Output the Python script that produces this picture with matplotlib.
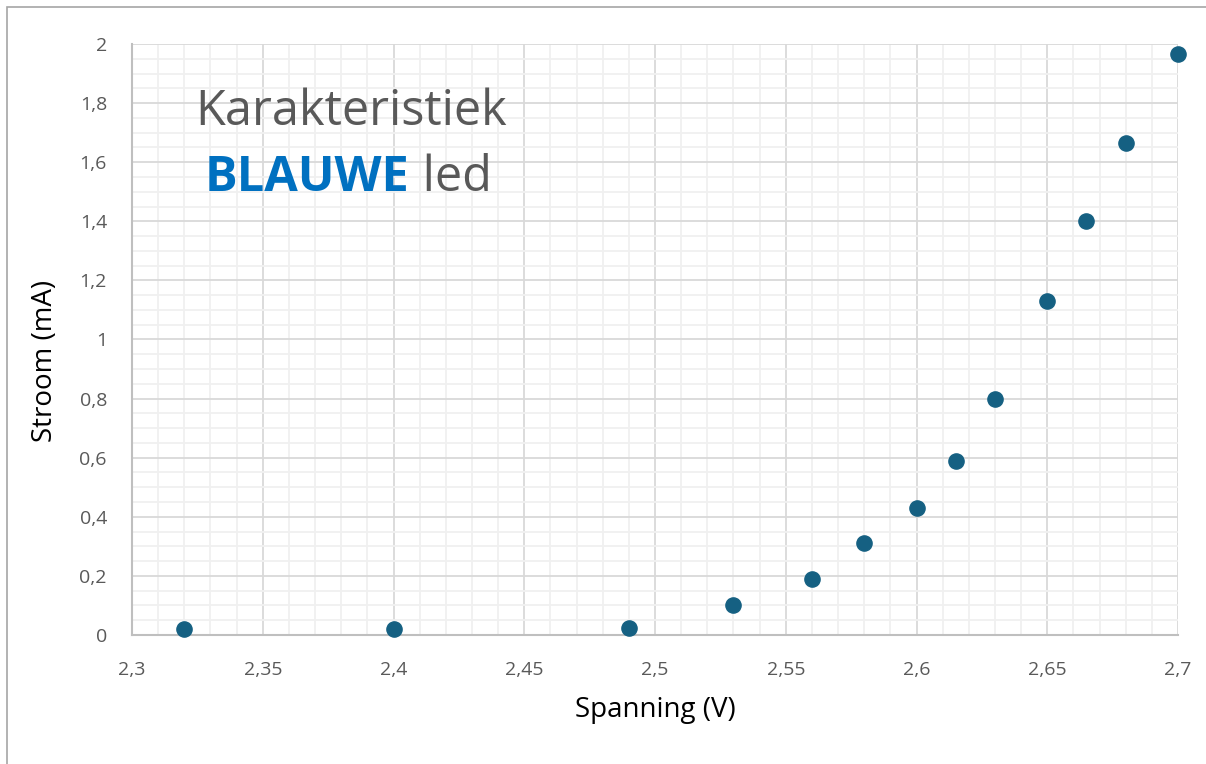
import matplotlib
matplotlib.use('Agg')
import matplotlib.pyplot as plt
from matplotlib.ticker import MultipleLocator, FuncFormatter
from matplotlib.patches import Rectangle

# gemeten waarden blauwe led
spanning = [2.32, 2.40, 2.49, 2.53, 2.56, 2.58, 2.60, 2.615, 2.63, 2.65, 2.665, 2.68, 2.70]
stroom = [0.02, 0.02, 0.025, 0.10, 0.19, 0.31, 0.43, 0.59, 0.80, 1.13, 1.40, 1.665, 1.965]

plt.rcParams['font.family'] = ['Open Sans', 'DejaVu Sans']

grey = '#595959'

fig = plt.figure(figsize=(12.06, 7.64), dpi=100)
fig.patches.append(Rectangle((7/1206, -0.01), 1.02, 1 - 7/764 + 0.01, transform=fig.transFigure,
                             fill=False, edgecolor='#A6A6A6', linewidth=1.2))
ax = fig.add_axes([132/1206, 1 - 635/764, (1178-132)/1206, (635-44)/764])

ax.scatter(spanning, stroom, s=120, color='#156082', zorder=3, clip_on=False)

ax.set_xlim(2.3, 2.7)
ax.set_ylim(0, 2)
ax.xaxis.set_major_locator(MultipleLocator(0.05))
ax.xaxis.set_minor_locator(MultipleLocator(0.01))
ax.yaxis.set_major_locator(MultipleLocator(0.2))
ax.yaxis.set_minor_locator(MultipleLocator(0.05))

komma = FuncFormatter(lambda v, p: ('%g' % round(v, 3)).replace('.', ','))
ax.xaxis.set_major_formatter(komma)
ax.yaxis.set_major_formatter(komma)

ax.grid(which='major', color='#D9D9D9', linewidth=1.3)
ax.grid(which='minor', color='#F0F0F0', linewidth=1.3)
ax.set_axisbelow(True)
ax.tick_params(which='both', length=0, labelsize=14, colors=grey)
ax.tick_params(axis='x', pad=19)
ax.tick_params(axis='y', pad=18)

for s in ['top', 'right']:
    ax.spines[s].set_visible(False)
for s in ['left', 'bottom']:
    ax.spines[s].set_color('#BFBFBF')
    ax.spines[s].set_linewidth(1.5)

ax.set_xlabel('Spanning (V)', fontsize=20, color='black', va='center')
ax.set_ylabel('Stroom (mA)', fontsize=20, color='black', va='center')
ax.xaxis.set_label_coords(0.5, (635 - 710) / 591)
ax.yaxis.set_label_coords((45 - 132) / 1046, (635 - 361) / 591)

t1 = ax.text(195/1206, 1 - 125/764, 'Karakteristiek', transform=fig.transFigure,
             fontsize=35, color=grey, va='baseline')
t2 = ax.text(205/1206, 1 - 191/764, 'BLAUWE', transform=fig.transFigure,
             fontsize=35, color='#0070C0', fontweight='bold', va='baseline')
ax.annotate(' led', xy=(1, 0), xycoords=t2, fontsize=35, color=grey, va='bottom')

fig.savefig('out.png', dpi=100)
